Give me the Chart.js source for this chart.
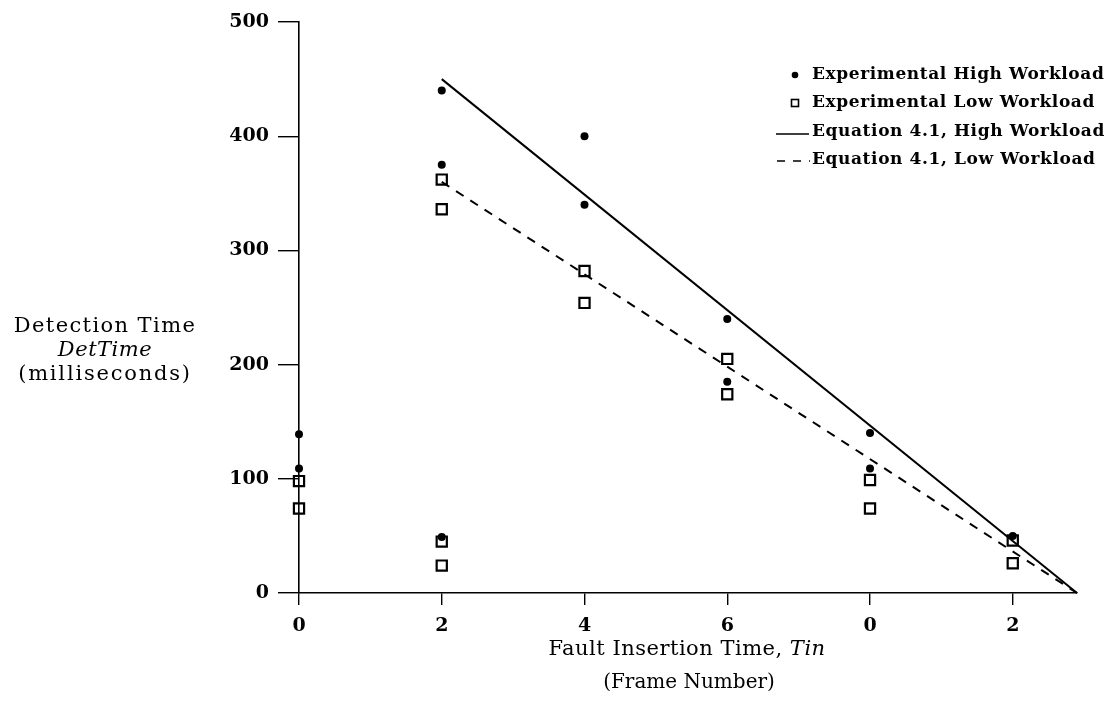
<!DOCTYPE html>
<html>
<head>
<meta charset="utf-8">
<script src="https://cdn.jsdelivr.net/npm/chart.js@4.4.0/dist/chart.umd.min.js"></script>
<style>
  body { margin: 0; background: #fff; }
  #wrap { width: 1112px; height: 713px; }
</style>
</head>
<body>
<div id="wrap"><canvas id="myChart" width="1112" height="713"></canvas></div>
<script>
// tick positions and the labels printed under them
const xTicks = [0, 2, 4, 6, 8, 10];
const xTickLabels = ['0', '2', '4', '6', '0', '2'];
const yTicks = [0, 100, 200, 300, 400, 500];

// experimental high workload (dots)
const highX = [0, 0, 2, 2, 2, 4, 4, 6, 6, 8, 8, 10];
const highY = [139, 109, 440, 375, 49, 400, 340, 240, 185, 140, 109, 50];

// experimental low workload (open squares)
const lowX = [0, 0, 2, 2, 2, 2, 4, 4, 6, 6, 8, 8, 10, 10];
const lowY = [98, 74, 362, 336, 45, 24, 282, 254, 205, 174, 99, 74, 46, 26];

// equation 4.1 lines
const eqX = [2, 10.9];
const eqHighY = [450, 0];
const eqLowY = [360, 0];

const legendLabels = [
  'Experimental High Workload',
  'Experimental Low Workload',
  'Equation 4.1, High Workload',
  'Equation 4.1, Low Workload'
];

const SERIF = '"DejaVu Serif", "Liberation Serif", serif';

function pts(xs, ys) {
  return xs.map((x, i) => ({ x: x, y: ys[i] }));
}

// draws a line of text made of parts, some italic, centred on cx
function mixedText(ctx, parts, cx, cy, size, spacing) {
  ctx.letterSpacing = (spacing || 0) + 'px';
  let total = 0;
  parts.forEach(p => {
    ctx.font = (p.italic ? 'italic ' : '') + size + 'px ' + SERIF;
    p.w = ctx.measureText(p.t).width;
    total += p.w;
  });
  let x = cx - total / 2;
  ctx.textAlign = 'left';
  ctx.textBaseline = 'middle';
  parts.forEach(p => {
    ctx.font = (p.italic ? 'italic ' : '') + size + 'px ' + SERIF;
    ctx.fillText(p.t, x, cy);
    x += p.w;
  });
  ctx.letterSpacing = '0px';
}

const extras = {
  id: 'extras',
  afterDraw(chart) {
    const ctx = chart.ctx;
    ctx.save();
    ctx.fillStyle = '#000';
    ctx.strokeStyle = '#000';

    // y axis title, written horizontally on the left
    mixedText(ctx, [{ t: 'Detection Time' }], 105, 327, 21, 1.4);
    mixedText(ctx, [{ t: 'DetTime', italic: true }], 105, 351, 21, 0.5);
    mixedText(ctx, [{ t: '(milliseconds)' }], 105, 375, 21, 1.8);

    // x axis title
    mixedText(ctx, [{ t: 'Fault Insertion Time, ' }, { t: 'Tin', italic: true }], 687, 650, 21, 0.5);
    mixedText(ctx, [{ t: '(Frame Number)' }], 689, 683, 20, 0);

    // legend at top right
    const lx = 812, ly = [75, 103, 132, 160];
    ctx.font = 'bold 17px ' + SERIF;
    ctx.letterSpacing = '0.6px';
    ctx.textAlign = 'left';
    ctx.textBaseline = 'middle';
    legendLabels.forEach((t, i) => ctx.fillText(t, lx, ly[i]));
    ctx.letterSpacing = '0px';

    ctx.beginPath();
    ctx.arc(795, ly[0], 3.3, 0, Math.PI * 2);
    ctx.fill();

    ctx.lineWidth = 1.6;
    ctx.strokeRect(791.5, ly[1] - 3.5, 7, 7);

    ctx.lineWidth = 1.5;
    ctx.beginPath();
    ctx.moveTo(776, ly[2] + 2);
    ctx.lineTo(809, ly[2] + 2);
    ctx.stroke();

    ctx.setLineDash([8, 8]);
    ctx.beginPath();
    ctx.moveTo(777, ly[3] + 1);
    ctx.lineTo(810, ly[3] + 1);
    ctx.stroke();
    ctx.restore();
  }
};

const ctx = document.getElementById('myChart');
const myChart = new Chart(ctx, {
  type: 'scatter',
  data: {
    datasets: [
      {
        label: legendLabels[0],
        data: pts(highX, highY),
        pointStyle: 'circle',
        pointRadius: 4,
        backgroundColor: '#000',
        borderColor: '#000',
        borderWidth: 0,
        clip: false
      },
      {
        label: legendLabels[1],
        data: pts(lowX, lowY),
        pointStyle: 'rect',
        pointRadius: 7.2,
        backgroundColor: 'rgba(255,255,255,0)',
        borderColor: '#000',
        borderWidth: 2.2,
        clip: false
      },
      {
        label: legendLabels[2],
        type: 'line',
        data: pts(eqX, eqHighY),
        showLine: true,
        pointRadius: 0,
        borderColor: '#000',
        borderWidth: 2,
        fill: false,
        clip: false
      },
      {
        label: legendLabels[3],
        type: 'line',
        data: pts(eqX, eqLowY),
        showLine: true,
        pointRadius: 0,
        borderColor: '#000',
        borderWidth: 2,
        borderDash: [9, 8],
        fill: false,
        clip: false
      }
    ]
  },
  options: {
    responsive: false,
    animation: false,
    layout: { padding: { top: 22, right: 35, left: 0, bottom: 0 } },
    scales: {
      x: {
        type: 'linear',
        min: 0,
        max: 10.9,
        afterBuildTicks: (scale) => { scale.ticks = xTicks.map(v => ({ value: v })); },
        afterFit: (scale) => { scale.height = 120; },
        border: { display: true, color: '#000', width: 1.6 },
        grid: { display: true, drawOnChartArea: false, drawTicks: true, tickLength: 12, color: '#000', lineWidth: 1.4 },
        ticks: {
          padding: 10,
          color: '#000',
          font: { family: SERIF, size: 19, weight: 'bold' },
          callback: (val) => xTickLabels[xTicks.indexOf(val)]
        }
      },
      y: {
        type: 'linear',
        min: 0,
        max: 500,
        afterBuildTicks: (scale) => { scale.ticks = yTicks.map(v => ({ value: v })); },
        afterFit: (scale) => { scale.width = 299; },
        border: { display: true, color: '#000', width: 1.6 },
        grid: { display: true, drawOnChartArea: false, drawTicks: true, tickLength: 21, color: '#000', lineWidth: 1.4 },
        ticks: {
          padding: 9,
          color: '#000',
          font: { family: SERIF, size: 19, weight: 'bold' }
        }
      }
    },
    plugins: {
      legend: { display: false },
      tooltip: { enabled: false }
    }
  },
  plugins: [extras]
});
</script>
</body>
</html>
